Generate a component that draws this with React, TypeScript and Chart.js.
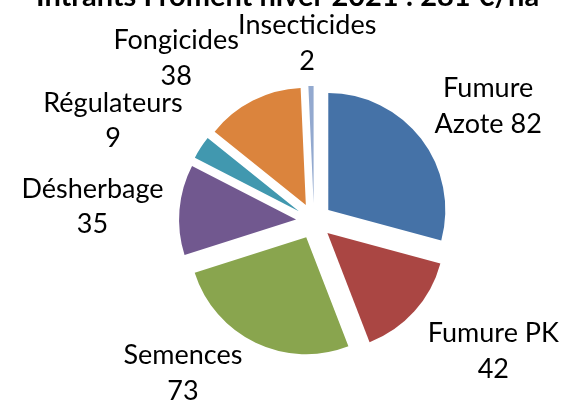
import React, { useEffect, useRef } from "react";
import { Chart, registerables } from "chart.js";

Chart.register(...registerables);

// ---- data ----
const categories = ["Fumure\nAzote", "Fumure PK", "Semences", "Désherbage", "Régulateurs", "Fongicides", "Insecticides"];
const values = [82, 42, 73, 35, 9, 38, 2];
const colors = ["#4572A7", "#AA4643", "#89A54E", "#71588F", "#4198AF", "#DB843D", "#93A9CF"];
const titleText = "Intrants Froment hiver 2021 : 281 €/ha";

// ---- layout (label placement relative to each slice) ----
const labelDist = [209, 221, 200, 222, 225, 214, 179];
const labelShiftDeg = [3.9, -6.2, 15.3, -0.9, -6.3, -13.2, -0.9];
const EXPLODE = 18;
const FONT = "Lato, 'Noto Sans', sans-serif";

const explodePlugin = {
  id: "explodeSlices",
  beforeDatasetDraw(chart: any, args: any) {
    const ctx = chart.ctx;
    args.meta.data.forEach((arc: any) => {
      const mid = (arc.startAngle + arc.endAngle) / 2;
      ctx.save();
      ctx.translate(Math.cos(mid) * EXPLODE, Math.sin(mid) * EXPLODE);
      arc.draw(ctx);
      ctx.restore();
    });
    return false;
  },
};

const labelPlugin = {
  id: "sliceLabels",
  afterDatasetsDraw(chart: any) {
    const ctx = chart.ctx;
    const meta = chart.getDatasetMeta(0);
    ctx.save();
    ctx.fillStyle = "#000";
    ctx.font = `27px ${FONT}`;
    ctx.textAlign = "center";
    ctx.textBaseline = "alphabetic";
    meta.data.forEach((arc: any, i: number) => {
      const mid = (arc.startAngle + arc.endAngle) / 2 + (labelShiftDeg[i] * Math.PI) / 180;
      const cx = arc.x + Math.cos(mid) * labelDist[i];
      const cy = arc.y + Math.sin(mid) * labelDist[i];
      const cat = categories[i];
      const text = cat.includes("\n") ? `${cat} ${values[i]}` : `${cat}\n${values[i]}`;
      const lines = text.split("\n");
      lines.forEach((ln, k) => {
        ctx.fillText(ln, cx, cy - 8 + k * 35.5);
      });
    });
    ctx.restore();
  },
  afterDraw(chart: any) {
    const ctx = chart.ctx;
    ctx.save();
    ctx.fillStyle = "#000";
    ctx.font = `bold 29px ${FONT}`;
    ctx.textAlign = "left";
    ctx.textBaseline = "alphabetic";
    ctx.fillText(titleText, 36, 6);
    ctx.restore();
  },
};

export default function App() {
  const ref = useRef<HTMLCanvasElement | null>(null);
  useEffect(() => {
    if (!ref.current) return;
    const chart = new Chart(ref.current, {
      type: "pie",
      data: {
        labels: categories.map((c) => c.replace("\n", " ")),
        datasets: [
          {
            data: values,
            backgroundColor: colors,
            borderWidth: 0,
          },
        ],
      },
      options: {
        responsive: false,
        animation: false,
        radius: 117,
        layout: { padding: { left: 65, right: 0, top: 42, bottom: 0 } },
        plugins: {
          legend: { display: false },
          tooltip: { enabled: false },
          title: { display: false },
        },
      } as any,
      plugins: [explodePlugin, labelPlugin],
    });
    return () => chart.destroy();
  }, []);
  return (
    <div style={{ position: "fixed", left: 0, top: 0, width: 563, height: 400, background: "#fff" }}>
      <canvas ref={ref} width={563} height={400} style={{ display: "block" }} />
    </div>
  );
}
